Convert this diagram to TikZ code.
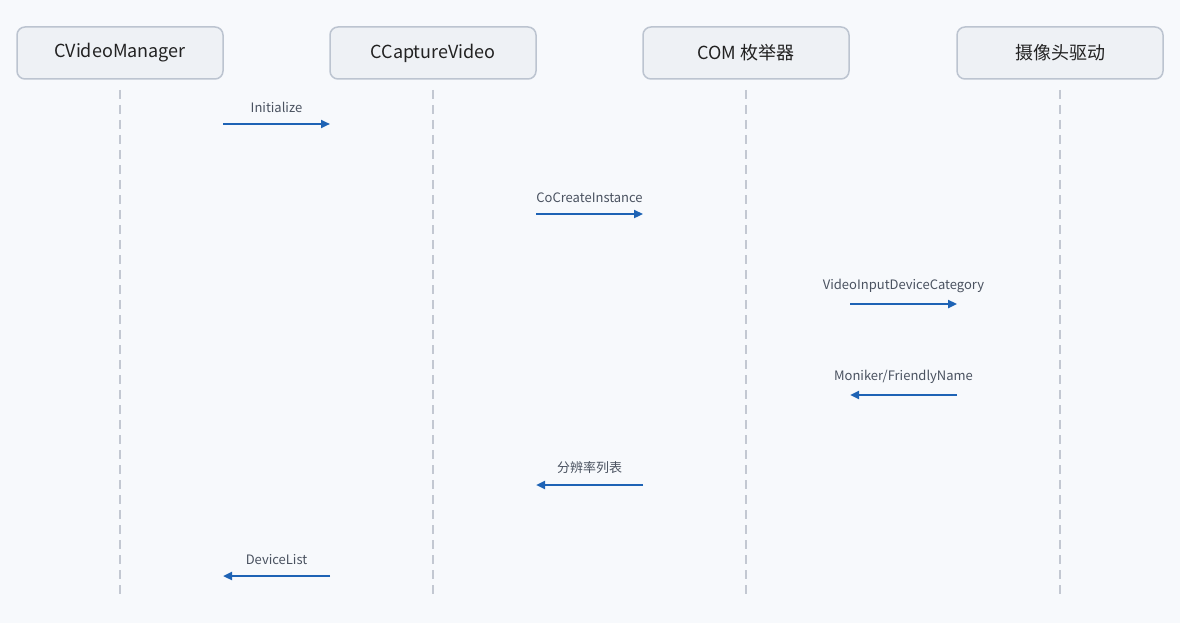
\documentclass[tikz,border=0pt]{standalone}
\usepackage{fontspec}
\setmainfont{Noto Sans}
\newfontfamily\cjk{Noto Sans CJK SC}
\usetikzlibrary{arrows.meta}
\definecolor{bgc}{HTML}{F7F9FC}
\definecolor{boxfill}{HTML}{EEF1F5}
\definecolor{boxline}{HTML}{BCC4D0}
\definecolor{lifec}{HTML}{C3C8D2}
\definecolor{msgc}{HTML}{1E63B5}
\definecolor{txtc}{HTML}{222222}
\definecolor{lblc}{HTML}{4A5260}
\tikzset{
  actor/.style={draw=boxline, line width=1.5pt, fill=boxfill, rounded corners=8pt, minimum width=206pt, minimum height=52pt, font=\fontsize{18}{20}\selectfont\cjk, text=txtc},
  life/.style={draw=lifec, line width=1.5pt, dash pattern=on 9pt off 6pt},
  msg/.style={draw=msgc, line width=2.5pt, -{Triangle[length=9pt,width=8pt]}},
  lbl/.style={font=\fontsize{13}{15}\selectfont\cjk, text=lblc}
}
\begin{document}
\begin{tikzpicture}[x=1pt,y=-1pt]
\fill[bgc] (0,0) rectangle (1180,623);
\useasboundingbox (0,0) rectangle (1180,623);
\node[actor] (A) at (120,53) {CVideoManager};
\node[actor] (B) at (433,53) {CCaptureVideo};
\node[actor] (C) at (746,53) {COM 枚举器};
\node[actor] (D) at (1060,53) {摄像头驱动};
\foreach \n/\x in {a/120,b/433,c/746,d/1060}{
  \coordinate (\n top) at (\x,90);
  \coordinate (\n bot) at (\x,596);
  \draw[life] (\n top) -- (\n bot);
}
\coordinate (m1s) at (223,124); \coordinate (m1e) at (330,124);
\coordinate (m2s) at (536,214); \coordinate (m2e) at (643,214);
\coordinate (m3s) at (850,304); \coordinate (m3e) at (957,304);
\coordinate (m4s) at (957,395); \coordinate (m4e) at (850,395);
\coordinate (m5s) at (643,485); \coordinate (m5e) at (536,485);
\coordinate (m6s) at (330,576); \coordinate (m6e) at (223,576);
\draw[msg] (m1s) -- (m1e) node[lbl, midway, above=7pt] {Initialize};
\draw[msg] (m2s) -- (m2e) node[lbl, midway, above=7pt] {CoCreateInstance};
\draw[msg] (m3s) -- (m3e) node[lbl, midway, above=7pt] {VideoInputDeviceCategory};
\draw[msg] (m4s) -- (m4e) node[lbl, midway, above=7pt] {Moniker/FriendlyName};
\draw[msg] (m5s) -- (m5e) node[lbl, midway, above=7pt] {分辨率列表};
\draw[msg] (m6s) -- (m6e) node[lbl, midway, above=7pt] {DeviceList};
\end{tikzpicture}
\end{document}
